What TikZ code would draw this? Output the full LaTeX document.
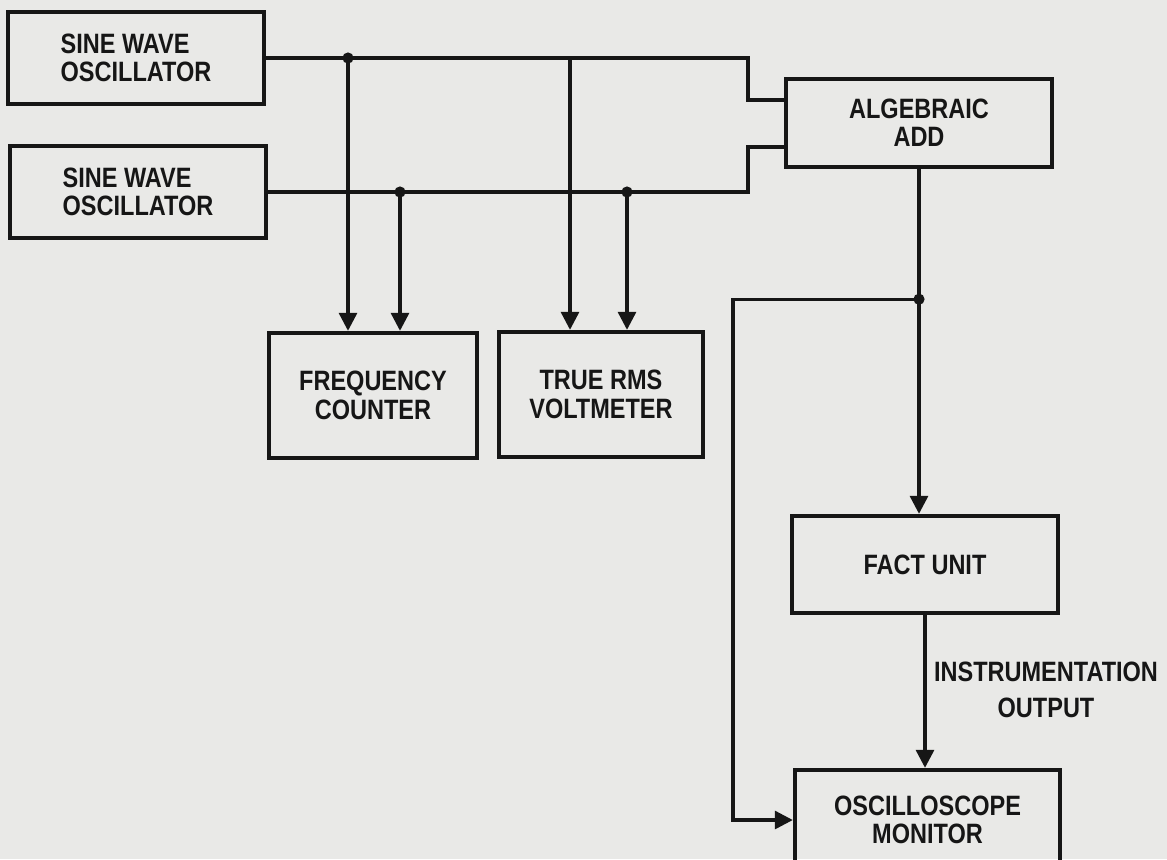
\documentclass[tikz,border=0pt]{standalone}
\usepackage{fontspec}
\newfontfamily\letterfont{Liberation Sans}[FakeStretch=0.84]
\usepackage{tikz}
\usetikzlibrary{arrows.meta, positioning, calc}
\usepackage{xcolor}
\definecolor{fcink}{RGB}{22,22,22}
\definecolor{fcpaper}{RGB}{233,233,231}
\tikzset{
    blk/.style={draw=fcink, line width=2.2pt, align=center, inner sep=0pt,
                font=\letterfont\bfseries\fontsize{14}{14.2}\selectfont, text=fcink},
    wire/.style={line width=1.6pt, fcink},
    arrow/.style={wire, -{Triangle[length=9pt, width=9pt]}},
    junct/.style={circle, fill=fcink, inner sep=0pt, minimum size=5.6pt},
    lbl/.style={align=center, font=\letterfont\bfseries\fontsize{14}{18}\selectfont, text=fcink},
}

\begin{document}
\begin{tikzpicture}[x=0.5pt, y=-0.5pt]
    \useasboundingbox (0,0) rectangle (1167,859);
    \clip (0,0) rectangle (1167,859);
    \fill[fcpaper] (0,0) rectangle (1167,859);
    % blocks
    \node[blk, align=left, minimum width=128pt, minimum height=46pt] (osca) at (136,58) {SINE WAVE\\OSCILLATOR};
    \node[blk, align=left, minimum width=128pt, minimum height=46pt] (oscb) at (138,192) {SINE WAVE\\OSCILLATOR};
    \node[blk, minimum width=133pt, minimum height=44pt] (add) at (919,123) {ALGEBRAIC\\ADD};
    \node[blk, minimum width=104pt, minimum height=62.5pt] (freq) at (373,395.5) {FREQUENCY\\COUNTER};
    \node[blk, minimum width=102pt, minimum height=62.5pt] (rms) at (601,394.5) {TRUE RMS\\VOLTMETER};
    \node[blk, minimum width=133pt, minimum height=48.5pt] (fact) at (925,564.5) {FACT UNIT};
    \node[blk, minimum width=132.5pt, minimum height=50pt] (scope) at (927.5,820) {OSCILLOSCOPE\\MONITOR};
    \node[lbl] (outlbl) at (1046,690) {INSTRUMENTATION\\OUTPUT};
    % bus taps and knees
    \coordinate (ta) at (348,58);
    \coordinate (tb) at (570,58);
    \coordinate (ba) at (400,192);
    \coordinate (bb) at (627,192);
    \coordinate (kneea) at (748,100);
    \coordinate (kneeb) at (748,147);
    \coordinate (kneec) at (733,560);
    \path (add.south) ++(0,130) coordinate (tap);
    % buses into the adder
    \draw[wire] (osca.east) -| (kneea) -- ($(add.west)+(0,-23)$);
    \draw[wire] (oscb.east) -| (kneeb) -- ($(add.west)+(0,24)$);
    % drops to the meters
    \draw[arrow] (ta) -- (ta |- freq.north);
    \draw[arrow] (ba) -- (ba |- freq.north);
    \draw[arrow] (tb) -- (tb |- rms.north);
    \draw[arrow] (bb) -- (bb |- rms.north);
    % adder output chain
    \draw[arrow] (add.south) -- (add.south |- fact.north);
    \draw[arrow] (fact.south) -- (fact.south |- scope.north);
    \draw[arrow] (tap) -| (kneec) |- (scope.west);
    \foreach \j in {ta, ba, bb, tap}
        \node[junct] at (\j) {};
\end{tikzpicture}
\end{document}
